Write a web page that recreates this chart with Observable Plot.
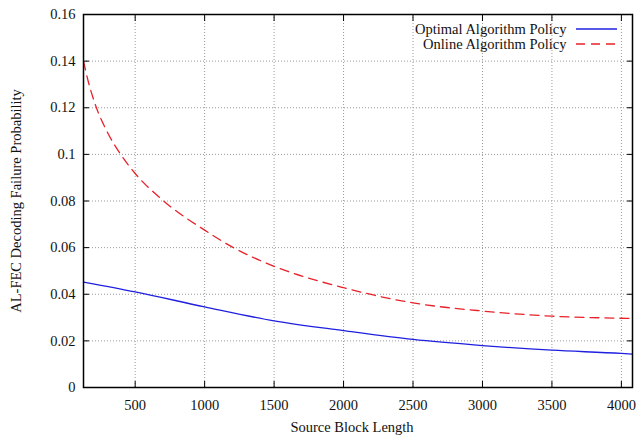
<!DOCTYPE html>
<html>
<head>
<meta charset="utf-8">
<script src="https://cdn.jsdelivr.net/npm/d3@7"></script>
<script src="https://cdn.jsdelivr.net/npm/@observablehq/plot@0.6"></script>
<style>
  html, body { margin: 0; padding: 0; background: white; }
  #chart { width: 638px; height: 437px; }
</style>
</head>
<body>
<div id="chart"></div>
<script>
// ---- data ----
const seriesNames = ["Optimal Algorithm Policy", "Online Algorithm Policy"];
const optimalX = [128, 500, 1000, 1500, 2000, 2500, 3000, 3500, 4000, 4080];
const optimalY = [0.0452, 0.0410, 0.0346, 0.0286, 0.0244, 0.0206, 0.0180, 0.0160, 0.0146, 0.0143];
const onlineX = [128, 160, 212, 300, 392, 500, 705, 1000, 1207, 1500, 2000, 2500, 3000, 3500, 4000, 4080];
const onlineY = [0.140, 0.1318, 0.1215, 0.1095, 0.1003, 0.0918, 0.080, 0.0675, 0.060, 0.0520, 0.0428, 0.0363, 0.0328, 0.0306, 0.0297, 0.0296];
const xTicks = [500, 1000, 1500, 2000, 2500, 3000, 3500, 4000];
const yTicks = [0, 0.02, 0.04, 0.06, 0.08, 0.1, 0.12, 0.14, 0.16];
const xLabel = "Source Block Length";
const yLabel = "AL-FEC Decoding Failure Probability";

const optimal = optimalX.map((x, i) => ({x, y: optimalY[i]}));
const online = onlineX.map((x, i) => ({x, y: onlineY[i]}));

const blue = "#1f1fe0";
const red = "#e8222a";
const font = "'Liberation Serif', 'DejaVu Serif', serif";

const plot = Plot.plot({
  width: 638,
  height: 437,
  marginLeft: 83,
  marginRight: 6,
  marginTop: 14,
  marginBottom: 50,
  style: {fontFamily: font, fontSize: "14.5px", background: "white", color: "#111"},
  x: {domain: [128, 4080]},
  y: {domain: [0, 0.16]},
  marks: [
    Plot.gridX(xTicks, {stroke: "#9a9a9a", strokeOpacity: 1, strokeDasharray: "1,2"}),
    Plot.gridY(yTicks.slice(1, -1), {stroke: "#9a9a9a", strokeOpacity: 1, strokeDasharray: "1,2"}),
    Plot.line(optimal, {x: "x", y: "y", stroke: blue, strokeWidth: 1.3, curve: "monotone-x"}),
    Plot.line(online, {x: "x", y: "y", stroke: red, strokeWidth: 1.3, strokeDasharray: "9,6", curve: "monotone-x"}),
    // tick labels
    Plot.axisX(xTicks, {anchor: "bottom", tickSize: 0, tickPadding: 12, label: null, tickFormat: d => String(d), fontSize: 14.5}),
    Plot.axisY(yTicks, {anchor: "left", tickSize: 0, tickPadding: 8, label: null, tickFormat: d => String(d), fontSize: 14.5}),
    // inward tick marks (mirrored like gnuplot)
    Plot.axisX(xTicks, {anchor: "bottom", tickSize: 6, dy: -6, tickFormat: () => "", label: null, stroke: "black"}),
    Plot.axisX(xTicks, {anchor: "top", tickSize: 6, dy: 6, tickFormat: () => "", label: null, stroke: "black"}),
    Plot.axisY(yTicks.slice(1, -1), {anchor: "left", tickSize: 6, dx: 6, tickFormat: () => "", label: null, stroke: "black"}),
    Plot.axisY(yTicks.slice(1, -1), {anchor: "right", tickSize: 6, dx: -6, tickFormat: () => "", label: null, stroke: "black"}),
    Plot.frame({stroke: "black", strokeWidth: 1.5}),
    // axis titles
    Plot.text([xLabel], {text: d => d, frameAnchor: "bottom", dy: 40, dx: -6, lineAnchor: "middle", fontSize: 14.5}),
    Plot.text([yLabel], {text: d => d, frameAnchor: "left", dx: -67, rotate: -90, textAnchor: "middle", lineAnchor: "middle", fontSize: 14.5}),
    // legend text
    Plot.text([seriesNames[0]], {text: d => d, frameAnchor: "top-right", dx: -66, dy: 15, textAnchor: "end", lineAnchor: "middle", fontSize: 14.5}),
    Plot.text([seriesNames[1]], {text: d => d, frameAnchor: "top-right", dx: -66, dy: 30, textAnchor: "end", lineAnchor: "middle", fontSize: 14.5})
  ]
});

// legend line samples
const svg = d3.select(plot);
const legendRows = [
  {y: 29, stroke: blue, dash: null},
  {y: 44, stroke: red, dash: "9,6"}
];
legendRows.forEach(r => {
  svg.append("line")
    .attr("x1", 576).attr("x2", 617)
    .attr("y1", r.y).attr("y2", r.y)
    .attr("stroke", r.stroke)
    .attr("stroke-width", 1.3)
    .attr("stroke-dasharray", r.dash);
});

document.getElementById("chart").appendChild(plot);
</script>
</body>
</html>
